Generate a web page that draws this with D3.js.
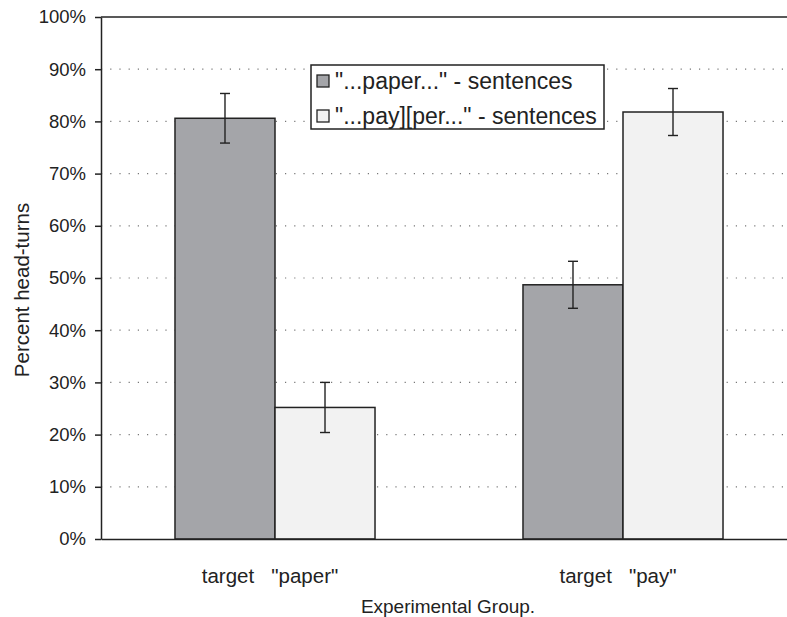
<!DOCTYPE html>
<html><head><meta charset="utf-8">
<script src="https://cdn.jsdelivr.net/npm/d3@7"></script>
<style>body{margin:0;background:#fff}svg{display:block}text{font-family:"Liberation Sans",Arial,sans-serif;fill:#222}</style>
</head><body><svg id="c" width="787" height="617"></svg>
<script>
const categories = ['target   "paper"', 'target   "pay"'];
const seriesNames = ['"...paper..." - sentences', '"...pay][per..." - sentences'];
const paperValues = [80.6, 48.7];
const payperValues = [25.2, 81.8];
const paperErr = [4.75, 4.5];
const payperErr = [4.8, 4.5];
const yTicks = [0,10,20,30,40,50,60,70,80,90,100];
const colors = ['#a4a5a9', '#f2f2f2'];
const FONT = '"Liberation Sans",Arial,sans-serif';

const svg = d3.select('#c');
const m = {l:101, t:17, r:-10, b:78};
const W = 787 - m.l - m.r, H = 617 - m.t - m.b;
const g = svg.append('g').attr('transform', `translate(${m.l},${m.t})`);
const x0 = d3.scaleBand().domain(categories).range([0, W]).padding(0);
const bw = x0.bandwidth();
const x1 = d3.scaleBand().domain([0,1]).range([bw*0.2126, bw*0.7874]).padding(0);
const y = d3.scaleLinear().domain([0,100]).range([H,0]);

// gridlines
g.append('g').selectAll('line').data(yTicks.filter(d=>d>0 && d<100)).join('line')
  .attr('x1',0).attr('x2',W).attr('y1',d=>y(d)).attr('y2',d=>y(d))
  .attr('stroke','#777').attr('stroke-width',1.2).attr('stroke-dasharray','1.2,8');
// top border
g.append('line').attr('x1',0).attr('x2',W).attr('y1',0).attr('y2',0).attr('stroke','#222').attr('stroke-width',1.5);

const series = [paperValues, payperValues];
const errs = [paperErr, payperErr];
categories.forEach((c,i)=>{
  [0,1].forEach(s=>{
    const xs = x0(c)+x1(s);
    const v = series[s][i], e = errs[s][i];
    g.append('rect').attr('x',xs).attr('y',y(v)).attr('width',x1.bandwidth()).attr('height',H-y(v))
      .attr('fill',colors[s]).attr('stroke','#222').attr('stroke-width',1.5);
    const cx = xs + x1.bandwidth()/2;
    g.append('line').attr('x1',cx).attr('x2',cx).attr('y1',y(v+e)).attr('y2',y(v-e)).attr('stroke','#222').attr('stroke-width',1.4);
    [v+e, v-e].forEach(t=>g.append('line').attr('x1',cx-5).attr('x2',cx+5).attr('y1',y(t)).attr('y2',y(t)).attr('stroke','#222').attr('stroke-width',1.4));
  });
});

// y axis
const ya = g.append('g').call(d3.axisLeft(y).tickValues(yTicks).tickFormat(d=>d+'%').tickSize(6).tickSizeOuter(0));
ya.select('.domain').attr('stroke','#222').attr('stroke-width',1.5);
ya.selectAll('.tick line').attr('stroke','#222').attr('stroke-width',1.5);
ya.selectAll('.tick text').attr('font-size',18.5).attr('x',-15).attr('fill','#222').style('font-family',FONT);

// x axis
const xa = g.append('g').attr('transform',`translate(0,${H})`).call(d3.axisBottom(x0).tickSize(0).tickSizeOuter(0));
xa.select('.domain').attr('stroke','#222').attr('stroke-width',1.5);
xa.selectAll('.tick text').attr('font-size',20.5).attr('y',29).attr('x',-5).attr('dy','0.71em').attr('fill','#222').style('font-family',FONT).style('white-space','pre');

svg.append('text').attr('x',448).attr('y',613).attr('text-anchor','middle').attr('font-size',19).text('Experimental Group.');
svg.append('text').attr('transform','translate(29,290) rotate(-90)').attr('text-anchor','middle').attr('font-size',20.5).text('Percent head-turns');

// legend
const lg = svg.append('g').attr('transform','translate(311,65)');
lg.append('rect').attr('width',293).attr('height',64).attr('fill','#fff').attr('stroke','#222').attr('stroke-width',1.5);
seriesNames.forEach((n,i)=>{
  const cy = 16 + i*35;
  lg.append('rect').attr('x',6).attr('y',cy-6).attr('width',12).attr('height',12).attr('fill',colors[i]).attr('stroke','#222').attr('stroke-width',1.3);
  lg.append('text').attr('x',24).attr('y',cy).attr('dy','0.36em').attr('font-size',23).text(n);
});
</script></body></html>
